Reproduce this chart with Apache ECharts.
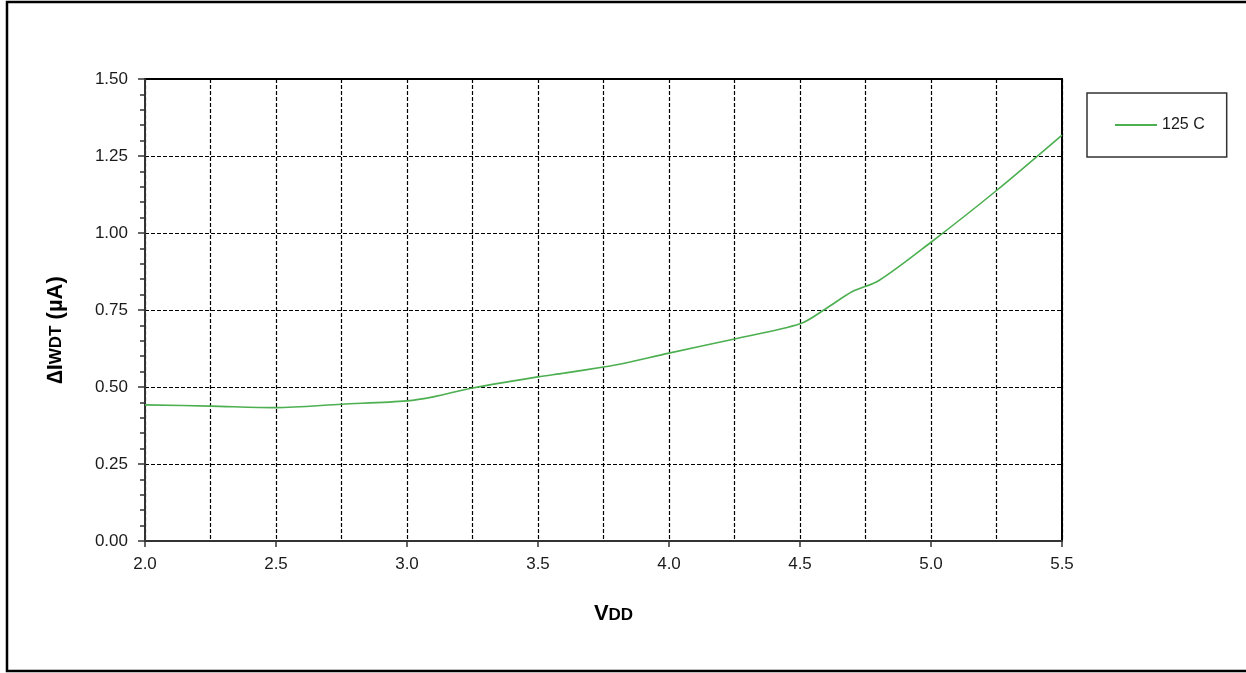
<!DOCTYPE html>
<html>
<head>
<meta charset="utf-8">
<script src="https://cdn.jsdelivr.net/npm/echarts@6/dist/echarts.min.js"></script>
<style>html,body{margin:0;padding:0;background:#fff;}#c{width:1246px;height:673px;}</style>
</head>
<body>
<div id="c"></div>
<script>
// Data
const vdd = [2.0, 2.25, 2.5, 2.75, 3.0, 3.1, 3.25, 3.5, 3.6, 3.75, 3.8, 4.0, 4.25, 4.5, 4.6, 4.7, 4.8, 5.0, 5.25, 5.5];
const iwdt125 = [0.442, 0.438, 0.433, 0.444, 0.455, 0.468, 0.497, 0.533, 0.545, 0.565, 0.572, 0.610, 0.656, 0.705, 0.755, 0.810, 0.845, 0.970, 1.138, 1.318];
const seriesName = '125 C';
const xTicks = [2.0, 2.5, 3.0, 3.5, 4.0, 4.5, 5.0, 5.5];
const yTicks = [0, 0.25, 0.5, 0.75, 1.0, 1.25, 1.5];

const chart = echarts.init(document.getElementById('c'), null, {renderer: 'canvas'});
const font = 'Liberation Sans, Arial, sans-serif';
const gridLine = {color: '#000', width: 1.2, type: [4, 2]};
const green = '#4caf50';

chart.setOption({
  animation: false,
  backgroundColor: '#fff',
  graphic: [
    {type: 'polyline', silent: true, shape: {points: [[1260, 2], [7, 2], [7, 671], [1260, 671]]},
     style: {stroke: '#000', lineWidth: 2.5, fill: null}}
  ],
  legend: {
    left: 1087, top: 93,
    orient: 'vertical',
    padding: [23, 22, 23, 28],
    borderColor: '#333', borderWidth: 1.5,
    icon: 'rect',
    itemWidth: 42, itemHeight: 2,
    itemStyle: {color: green},
    textStyle: {fontFamily: font, fontSize: 16, color: '#1a1a1a', lineHeight: 18},
    data: [seriesName]
  },
  grid: {left: 145, right: 184, top: 79, bottom: 132, show: true, borderColor: '#000', borderWidth: 2, backgroundColor: 'transparent'},
  xAxis: {
    type: 'value', min: xTicks[0], max: xTicks[xTicks.length - 1], interval: 0.5,
    name: '{v|V}{s|DD}', nameLocation: 'middle', nameGap: 62,
    nameTextStyle: {rich: {v: {fontFamily: font, fontSize: 22, fontWeight: 'bold', color: '#000'},
                            s: {fontFamily: font, fontSize: 17, fontWeight: 'bold', color: '#000', padding: [3, 0, 0, 0]}},
                    padding: [0, 0, 0, 20]},
    axisLine: {show: true, onZero: false, lineStyle: {color: '#333', width: 2}},
    axisTick: {show: true, inside: false, length: 6, lineStyle: {color: '#333', width: 1.5}},
    minorTick: {show: false, splitNumber: 2},
    axisLabel: {fontFamily: font, fontSize: 17, color: '#1a1a1a', margin: 15, formatter: v => v.toFixed(1)},
    splitLine: {show: true, lineStyle: gridLine},
    minorSplitLine: {show: true, lineStyle: gridLine}
  },
  yAxis: {
    type: 'value', min: yTicks[0], max: yTicks[yTicks.length - 1], interval: 0.25,
    name: '∆I{s|WDT} (µA)', nameLocation: 'middle', nameGap: 78, nameRotate: 90,
    nameTextStyle: {fontFamily: font, fontSize: 22, fontWeight: 'bold', color: '#000',
                    rich: {s: {fontFamily: font, fontSize: 17, fontWeight: 'bold', color: '#000'}},
                    padding: [0, 40, 0, 0]},
    axisLine: {show: true, onZero: false, lineStyle: {color: '#333', width: 2}},
    axisTick: {show: true, inside: false, length: 7, lineStyle: {color: '#333', width: 1.5}},
    minorTick: {show: true, splitNumber: 5, length: 5, lineStyle: {color: '#333', width: 1.5}},
    axisLabel: {fontFamily: font, fontSize: 17, color: '#1a1a1a', margin: 17, formatter: v => v.toFixed(2)},
    splitLine: {show: true, lineStyle: gridLine}
  },
  series: [{
    name: seriesName,
    type: 'line',
    data: vdd.map((x, i) => [x, iwdt125[i]]),
    symbol: 'none',
    smooth: 0.3,
    lineStyle: {color: green, width: 1.6},
    itemStyle: {color: green},
    z: 5
  }]
});
</script>
</body>
</html>
